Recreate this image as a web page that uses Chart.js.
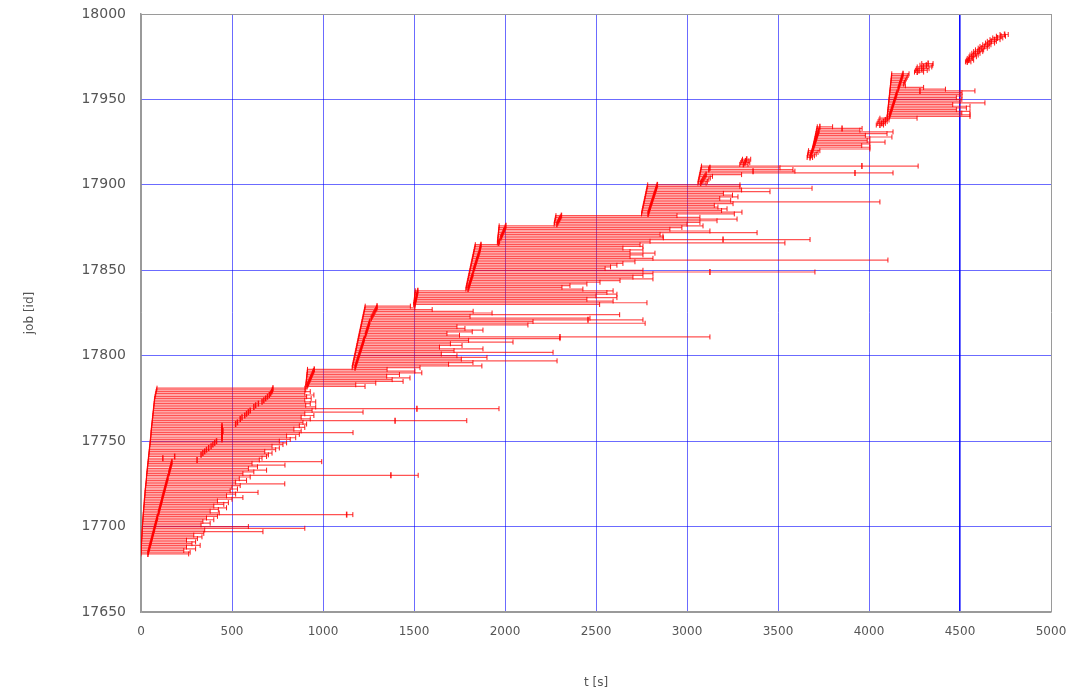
<!DOCTYPE html>
<html>
<head>
<meta charset="utf-8">
<script src="https://cdn.jsdelivr.net/npm/chart.js@4.4.0/dist/chart.umd.min.js"></script>
<style>
  html, body { margin: 0; padding: 0; background: #ffffff; }
  #wrap { width: 1078px; height: 695px; }
</style>
</head>
<body>
<div id="wrap"><canvas id="jobs" width="1078" height="695"></canvas></div>
<script>
// Each row: [job id, submit time, start time, end time] in seconds.
const batchA = [
  [17684, 0, 38, 262], [17685, 0, 40, 270], [17686, 1, 42, 235], [17687, 1, 45, 300],
  [17688, 2, 47, 250], [17689, 2, 50, 325], [17690, 3, 52, 280], [17691, 3, 55, 300],
  [17692, 4, 57, 250], [17693, 4, 60, 310], [17694, 5, 62, 335], [17695, 5, 64, 290],
  [17696, 6, 67, 345], [17697, 6, 69, 670], [17698, 7, 72, 350], [17699, 7, 74, 900],
  [17700, 8, 76, 590], [17701, 8, 79, 330], [17702, 9, 81, 380], [17703, 10, 84, 340],
  [17704, 10, 86, 400], [17705, 11, 89, 360], [17706, 12, 91, 420], [17707, 12, 1130, 1164],
  [17708, 13, 96, 430], [17709, 14, 99, 380], [17710, 15, 101, 425], [17711, 15, 104, 470],
  [17712, 16, 106, 400], [17713, 17, 109, 455], [17714, 18, 111, 480], [17715, 18, 114, 420],
  [17716, 19, 116, 500], [17717, 20, 118, 560], [17718, 21, 121, 470], [17719, 22, 123, 520],
  [17720, 22, 126, 643], [17721, 23, 128, 490], [17722, 24, 131, 530], [17723, 25, 133, 500],
  [17724, 26, 136, 545], [17725, 27, 138, 790], [17726, 28, 141, 520], [17727, 29, 143, 580],
  [17728, 30, 146, 540], [17729, 30, 148, 600], [17730, 31, 1373, 1523], [17731, 32, 153, 560],
  [17732, 33, 155, 620], [17733, 34, 158, 690], [17734, 35, 160, 590], [17735, 36, 163, 640],
  [17736, 37, 165, 791], [17737, 38, 168, 610], [17738, 39, 170, 993], [17739, 40, 308, 650],
  [17740, 41, 120, 665], [17741, 42, 185, 690], [17742, 43, 330, 700], [17743, 44, 340, 720],
  [17744, 45, 350, 680], [17745, 46, 360, 740], [17746, 47, 372, 760], [17747, 48, 385, 720],
  [17748, 49, 395, 780], [17749, 50, 405, 800], [17750, 51, 415, 760], [17751, 52, 445, 820],
  [17752, 53, 445, 850], [17753, 54, 445, 800], [17754, 55, 445, 870], [17755, 55, 445, 1165],
  [17756, 56, 450, 880], [17757, 57, 445, 840], [17758, 58, 445, 900], [17759, 59, 445, 870],
  [17760, 60, 520, 910], [17761, 61, 530, 890], [17762, 62, 1396, 1790], [17763, 63, 545, 930],
  [17764, 64, 555, 880], [17765, 65, 570, 950], [17766, 66, 580, 900], [17767, 67, 590, 1220],
  [17768, 68, 600, 940], [17769, 69, 1516, 1967], [17770, 70, 620, 960], [17771, 71, 630, 905],
  [17772, 72, 645, 930], [17773, 73, 665, 960], [17774, 74, 675, 900], [17775, 75, 685, 935],
  [17776, 77, 695, 910], [17777, 79, 705, 950], [17778, 81, 712, 900], [17779, 83, 718, 930],
  [17780, 85, 722, 905], [17781, 88, 725, 900]
];

const batchB = [
  [17782, 905, 912, 1231], [17783, 906, 916, 1180], [17784, 907, 920, 1290], [17785, 908, 924, 1440],
  [17786, 909, 928, 1380], [17787, 910, 932, 1478], [17788, 911, 936, 1350], [17789, 912, 940, 1420],
  [17790, 913, 944, 1543], [17791, 914, 948, 1505], [17792, 915, 952, 1352]
];

const batchC = [
  [17793, 1160, 1176, 1533], [17794, 1162, 1179, 1873], [17795, 1164, 1182, 1690], [17796, 1166, 1185, 1824],
  [17797, 1168, 1188, 2286], [17798, 1170, 1191, 1760], [17799, 1172, 1194, 1901], [17800, 1174, 1197, 1736],
  [17801, 1176, 1200, 1650], [17802, 1178, 1203, 2264], [17803, 1180, 1206, 1720], [17804, 1182, 1209, 1879],
  [17805, 1184, 1212, 1640], [17806, 1186, 1215, 1764], [17807, 1188, 1218, 1700], [17808, 1190, 1221, 2044],
  [17809, 1192, 1224, 1800], [17810, 1194, 1227, 2302], [17811, 1196, 2302, 3126], [17812, 1198, 1233, 1750],
  [17813, 1200, 1236, 1681], [17814, 1202, 1239, 1820], [17815, 1204, 1242, 1879], [17816, 1206, 1245, 1780],
  [17817, 1208, 1248, 1736], [17818, 1210, 1251, 2126], [17819, 1212, 1254, 2770], [17820, 1214, 1257, 2154],
  [17821, 1216, 2456, 2758], [17822, 1218, 1265, 2467], [17823, 1220, 1270, 1808], [17824, 1222, 1275, 2630],
  [17825, 1224, 1280, 1929], [17826, 1226, 1285, 1825], [17827, 1228, 1290, 1600], [17828, 1230, 1295, 1505],
  [17829, 1232, 1297, 1480]
];

const batchD = [
  [17830, 1498, 1505, 2520], [17831, 1500, 1507, 2780], [17832, 1501, 1509, 2594], [17833, 1502, 1511, 2450],
  [17834, 1503, 1513, 2615], [17835, 1504, 1515, 2500], [17836, 1505, 1517, 2615], [17837, 1506, 1519, 2560],
  [17838, 1507, 1521, 2594], [17839, 1785, 1797, 2428], [17840, 1787, 1800, 2313], [17841, 1789, 1803, 2357],
  [17842, 1791, 1806, 2450], [17843, 1793, 1809, 2522], [17844, 1795, 1812, 2632], [17845, 1797, 1815, 2813],
  [17846, 1799, 1818, 2703], [17847, 1801, 1821, 2758], [17848, 1803, 1824, 2813], [17849, 1805, 3126, 3703],
  [17850, 1807, 1827, 2758], [17851, 1809, 1830, 2550], [17852, 1811, 1833, 2580], [17853, 1813, 1836, 2615],
  [17854, 1815, 1839, 2648], [17855, 1817, 1842, 2714], [17856, 1819, 1845, 4104], [17857, 1821, 1848, 2813],
  [17858, 1823, 1851, 2687], [17859, 1825, 1854, 2758], [17860, 1827, 1857, 2824], [17861, 1829, 1860, 2687],
  [17862, 1831, 1862, 2758], [17863, 1833, 1864, 2648], [17864, 1835, 1866, 2758], [17865, 1837, 1868, 2742],
  [17866, 1958, 1965, 3538], [17867, 1959, 1969, 2797], [17868, 1960, 3198, 3676], [17869, 1961, 1977, 2870],
  [17870, 1962, 1981, 2868], [17871, 1963, 1985, 2852], [17872, 1964, 1989, 3385], [17873, 1965, 1993, 3126],
  [17874, 1966, 1997, 2906], [17875, 1967, 2001, 2972], [17876, 1968, 2005, 3088], [17877, 2270, 2285, 3000],
  [17878, 2272, 2290, 3071], [17879, 2274, 2295, 3165], [17880, 2276, 2300, 3275], [17881, 2278, 2305, 3071],
  [17882, 2280, 2310, 2945]
];

const batchE = [
  [17883, 2750, 2786, 3260], [17884, 2752, 2789, 3302], [17885, 2754, 2792, 3190], [17886, 2756, 2795, 3220],
  [17887, 2758, 2798, 3170], [17888, 2760, 2801, 3150], [17889, 2762, 2804, 3253], [17890, 2764, 2807, 4060],
  [17891, 2766, 2810, 3240], [17892, 2768, 2813, 3180], [17893, 2770, 2816, 3280], [17894, 2772, 2819, 3250],
  [17895, 2774, 2822, 3200], [17896, 2776, 2825, 3456], [17897, 2778, 2828, 3300], [17898, 2780, 2831, 3687],
  [17899, 2782, 2834, 3291], [17900, 2784, 2837, 3291]
];

const batchF = [
  [17901, 3060, 3075, 3105], [17902, 3062, 3081, 3112], [17903, 3064, 3087, 3120], [17904, 3066, 3093, 3128],
  [17905, 3068, 3099, 3140], [17906, 3070, 3105, 3300], [17907, 3072, 3923, 4132], [17908, 3074, 3363, 3593],
  [17909, 3076, 3120, 3582], [17910, 3078, 3126, 3511], [17911, 3080, 3961, 4270],
  [17912, 3290, 3310, 3335], [17913, 3295, 3318, 3345], [17914, 3300, 3322, 3340], [17915, 3305, 3328, 3350]
];

const batchG = [
  [17916, 3660, 3676, 3690], [17917, 3662, 3679, 3700], [17918, 3664, 3682, 3710], [17919, 3666, 3685, 3720],
  [17920, 3668, 3688, 3730], [17921, 3690, 3692, 4005], [17922, 3692, 3695, 4005], [17923, 3694, 3698, 3960],
  [17924, 3696, 3701, 4005], [17925, 3698, 3704, 4088], [17926, 3700, 3707, 3990], [17927, 3702, 3710, 4005],
  [17928, 3704, 3713, 4126], [17929, 3706, 3716, 3980], [17930, 3708, 3719, 4099], [17931, 3710, 3722, 4132],
  [17932, 3712, 3725, 3950], [17933, 3714, 3852, 3962], [17934, 3716, 3730, 3800]
];

const batchI = [
  [17935, 4040, 4060, 4080], [17936, 4045, 4070, 4090], [17937, 4050, 4080, 4100], [17938, 4055, 4090, 4110],
  [17939, 4060, 4100, 4264], [17940, 4100, 4112, 4555], [17941, 4101, 4115, 4555], [17942, 4102, 4118, 4510],
  [17943, 4103, 4121, 4555], [17944, 4104, 4124, 4480], [17945, 4105, 4127, 4535], [17946, 4106, 4130, 4555],
  [17947, 4107, 4133, 4460], [17948, 4108, 4136, 4637], [17949, 4109, 4139, 4500], [17950, 4110, 4142, 4510],
  [17951, 4111, 4145, 4480], [17952, 4112, 4148, 4511], [17953, 4113, 4151, 4500], [17954, 4114, 4154, 4511],
  [17955, 4115, 4280, 4582], [17956, 4116, 4160, 4420], [17957, 4117, 4163, 4300], [17958, 4118, 4166, 4200],
  [17959, 4119, 4169, 4190], [17960, 4120, 4172, 4195], [17961, 4121, 4175, 4200], [17962, 4122, 4178, 4205],
  [17963, 4123, 4181, 4210], [17964, 4124, 4184, 4215], [17965, 4125, 4187, 4220]
];

const batchJ = [
  [17966, 4250, 4265, 4300], [17967, 4255, 4275, 4320], [17968, 4260, 4290, 4330],
  [17969, 4265, 4300, 4345], [17970, 4280, 4315, 4350], [17971, 4290, 4325, 4352]
];

const batchK = [
  [17972, 4530, 4540, 4560], [17973, 4535, 4548, 4575], [17974, 4540, 4552, 4570], [17975, 4550, 4565, 4590],
  [17976, 4555, 4575, 4600], [17977, 4565, 4585, 4610], [17978, 4575, 4598, 4625], [17979, 4585, 4608, 4630],
  [17980, 4600, 4620, 4650], [17981, 4610, 4635, 4660], [17982, 4625, 4650, 4670], [17983, 4640, 4660, 4690],
  [17984, 4650, 4672, 4700], [17985, 4665, 4690, 4720], [17986, 4680, 4705, 4735], [17987, 4700, 4725, 4750],
  [17988, 4720, 4745, 4765]
];

const xTicks = [0, 500, 1000, 1500, 2000, 2500, 3000, 3500, 4000, 4500, 5000];
const yTicks = [17650, 17700, 17750, 17800, 17850, 17900, 17950, 18000];

const rows = [batchA, batchB, batchC, batchD, batchE, batchF, batchG, batchI, batchJ, batchK].flat();

// Horizontal span per job: submit -> end, broken between jobs by a null point.
const spanPoints = [];
rows.forEach(([id, submit, , end]) => {
  spanPoints.push({ x: submit, y: id }, { x: end, y: id }, { x: end, y: null });
});
const capPoints = rows.flatMap(([id, submit, , end]) => [{ x: submit, y: id }, { x: end, y: id }]);
const startPoints = rows.map(([id, , start]) => ({ x: start, y: id }));

const RED_LINE = 'rgba(255,0,0,0.68)';
const RED_MARK = 'rgba(255,0,0,0.9)';
const GRID_BLUE = 'rgba(0,0,255,0.58)';
const FRAME = '#9a9a9a';
const TEXT = '#555555';
const CLEAR = 'rgba(0,0,0,0)';

const tickMarkDataset = (label, data, radius, width) => ({
  label, data,
  showLine: false,
  pointStyle: 'line',
  pointRotation: 90,
  pointRadius: radius,
  pointBorderWidth: width,
  pointBorderColor: RED_MARK,
  pointBackgroundColor: RED_MARK,
  borderColor: RED_MARK
});

new Chart(document.getElementById('jobs'), {
  type: 'scatter',
  data: {
    datasets: [
      {
        label: 'span', data: spanPoints, showLine: true, spanGaps: false,
        borderColor: RED_LINE, borderWidth: 1.2, pointRadius: 0, tension: 0
      },
      tickMarkDataset('caps', capPoints, 2.5, 1),
      tickMarkDataset('start', startPoints, 3, 1.5)
    ]
  },
  options: {
    responsive: false,
    animation: false,
    devicePixelRatio: 1,
    events: [],
    layout: { padding: { top: 14, right: 27, bottom: 0, left: 0 } },
    plugins: { legend: { display: false }, tooltip: { enabled: false } },
    scales: {
      x: {
        type: 'linear', min: 0, max: 5000,
        afterFit: s => { s.height = 83; },
        afterBuildTicks: s => { s.ticks = xTicks.map(v => ({ value: v })); },
        ticks: {
          padding: 0, color: TEXT, maxRotation: 0,
          font: { family: 'DejaVu Sans', size: 12 },
          callback: v => String(v)
        },
        grid: {
          drawTicks: true, tickLength: 13, tickColor: CLEAR,
          lineWidth: c => (c.tick && c.tick.value === 4500 ? 1.6 : 1),
          color: c => {
            const v = c.tick && c.tick.value;
            if (v === 0 || v === 5000) return FRAME;
            if (v === 4500) return 'rgba(0,0,255,0.95)';
            return GRID_BLUE;
          }
        },
        border: { color: FRAME, width: 1.5 },
        title: { display: true, text: 't [s]', color: TEXT, padding: { top: 0, bottom: 5 }, font: { family: 'DejaVu Sans', size: 12 } }
      },
      y: {
        type: 'linear', min: 17650, max: 18000,
        afterFit: s => { s.width = 141; },
        afterBuildTicks: s => { s.ticks = yTicks.map(v => ({ value: v })); },
        ticks: {
          padding: 0, color: TEXT,
          font: { family: 'DejaVu Sans', size: 14 },
          callback: v => String(v)
        },
        grid: {
          drawTicks: true, tickLength: 15, tickColor: CLEAR,
          color: c => {
            const v = c.tick && c.tick.value;
            if (v === 17650 || v === 18000) return FRAME;
            return GRID_BLUE;
          }
        },
        border: { color: FRAME, width: 1.5 },
        title: { display: true, text: 'job [id]', color: TEXT, padding: { top: 23, bottom: 0 }, font: { family: 'DejaVu Sans', size: 12 } }
      }
    }
  }
});
</script>
</body>
</html>
